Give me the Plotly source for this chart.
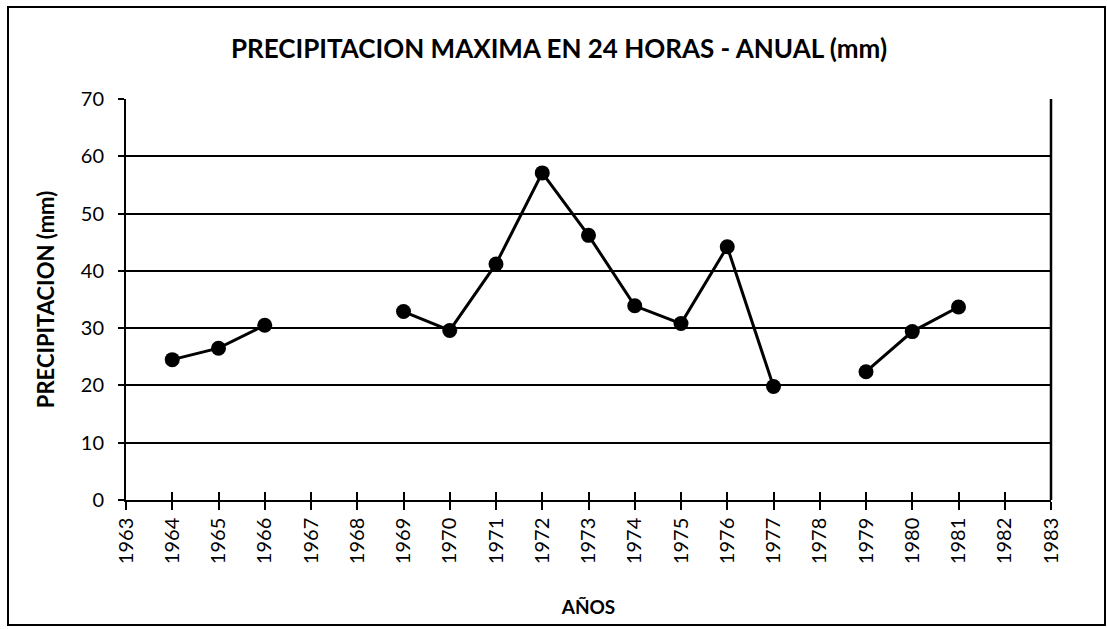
import plotly.graph_objects as go

years = list(range(1963, 1984))
precip = [None, 24.5, 26.5, 30.5, None, None, 32.9, 29.6, 41.2, 57.1, 46.2,
          33.9, 30.8, 44.2, 19.8, None, 22.4, 29.4, 33.7, None, None]
title_text = "PRECIPITACION MAXIMA EN 24 HORAS - ANUAL (mm)"
y_title = "PRECIPITACION (mm)"
x_title = "AÑOS"

FONT = "Lato, 'Open Sans', sans-serif"

fig = go.Figure()
fig.add_trace(go.Scatter(
    x=years, y=precip, mode="lines+markers", connectgaps=False,
    line=dict(color="black", width=3),
    marker=dict(color="black", size=15, symbol="circle"),
    showlegend=False,
))
# invisible trace on overlay axis to get cross ticks
fig.add_trace(go.Scatter(x=[1963, 1983], y=[0, 0], xaxis="x2", mode="none",
                         showlegend=False, hoverinfo="skip"))

fig.update_layout(
    width=1107, height=629,
    margin=dict(l=126, r=56, t=99, b=129),
    paper_bgcolor="white", plot_bgcolor="white",
    title=dict(text=f"<b>{title_text}</b>", x=0.505, xanchor="center",
               y=0.923, yanchor="middle",
               font=dict(family=FONT, size=26, color="black")),
    xaxis=dict(range=[1963, 1983], tickmode="linear", tick0=1963, dtick=1,
               tickangle=-90, ticks="outside", ticklen=8, tickwidth=1.5,
               tickcolor="black", showgrid=False, zeroline=False,
               showline=True, linecolor="black", linewidth=1.5, mirror=False,
               tickfont=dict(family=FONT, size=20, color="black"),
               title=dict(text=f"<b>{x_title}</b>", standoff=38,
                          font=dict(family=FONT, size=19, color="black"))),
    xaxis2=dict(range=[1963, 1983], overlaying="x", anchor="y",
                tickmode="linear", tick0=1963, dtick=1, ticks="inside",
                ticklen=8, tickwidth=1.5, tickcolor="black",
                showticklabels=False, showgrid=False, zeroline=False,
                showline=False, side="bottom"),
    yaxis=dict(range=[0, 70], tickmode="linear", dtick=10,
               ticks="outside", ticklen=6, tickwidth=1.5, tickcolor="black",
               ticklabelstandoff=10,
               showgrid=True, gridcolor="black", gridwidth=1.5,
               zeroline=False, showline=True, linecolor="black", linewidth=2,
               tickfont=dict(family=FONT, size=20, color="black"),
               title=dict(text=f"<b>{y_title}</b>", standoff=20,
                          font=dict(family=FONT, size=22, color="black"))),
)

# right border of plot area
fig.add_shape(type="line", xref="paper", yref="paper", x0=1, x1=1, y0=0, y1=1,
              line=dict(color="black", width=2.5))
# outer chart border
fig.add_shape(type="rect", xref="paper", yref="paper",
              x0=(8 - 126) / 925, x1=(1105 - 126) / 925,
              y0=-(625 - 500) / 401, y1=1 + (99 - 7) / 401,
              line=dict(color="black", width=2), fillcolor="rgba(0,0,0,0)")

fig.write_html("out.html", config={"displayModeBar": False},
               post_script="document.body.style.margin='0px';document.body.style.padding='0px';")
